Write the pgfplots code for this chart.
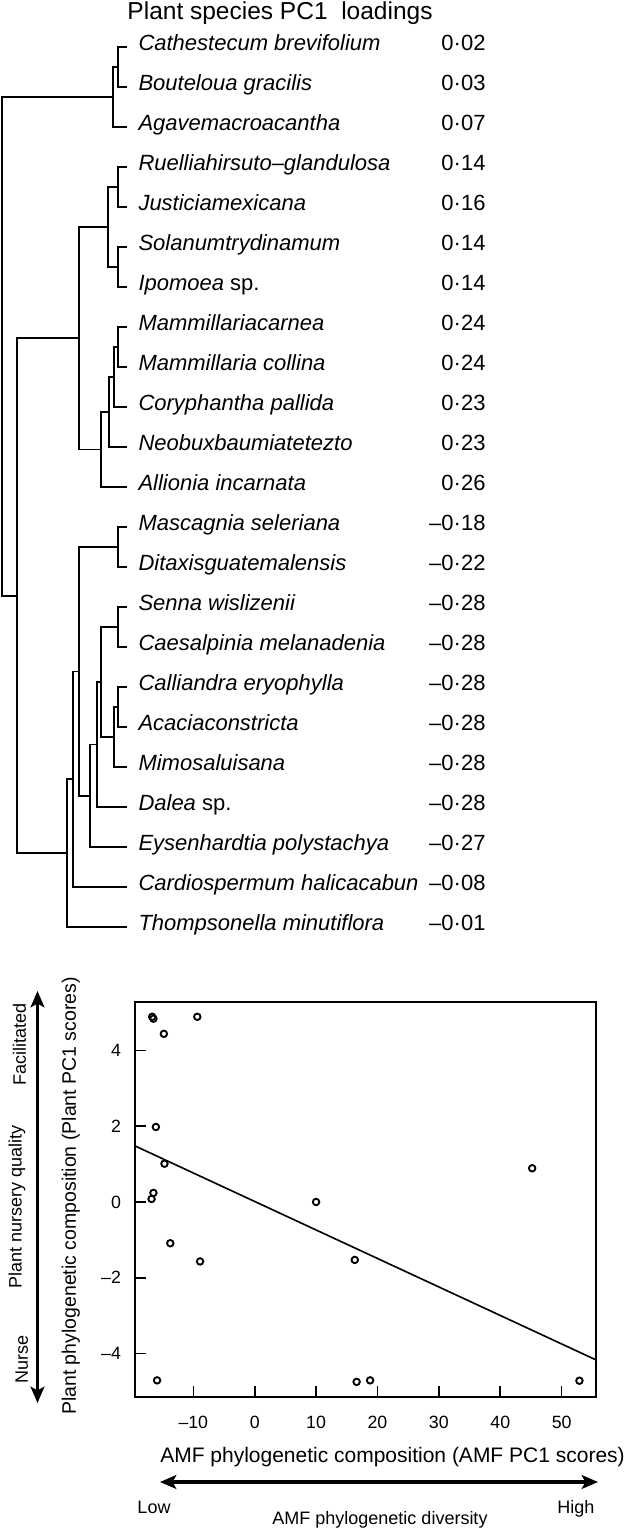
\documentclass[border=0pt]{standalone}
\usepackage{fontspec}
\setmainfont{Liberation Sans}
\usepackage{pgfplots}
\pgfplotsset{compat=1.18}
\usetikzlibrary{arrows.meta}

\newcommand\fsz[1]{\fontsize{#1pt}{#1pt}\selectfont}

\begin{document}
\begin{tikzpicture}
\useasboundingbox (0pt,0pt) rectangle (251.2pt,-612.4pt);

%% dendrogram, drawn in pixel units (x right, y down)
\begin{axis}[
  at={(0pt,0pt)}, anchor=north west,
  scale only axis, width=251.2pt, height=392pt,
  xmin=0, xmax=628, ymin=0, ymax=980, y dir=reverse,
  hide axis, clip=false,
  br/.style={black, line width=0.65pt, no markers},
]
\addplot[br] coordinates {(127,47) (118,47) (118,87) (127,87)};
\addplot[br] coordinates {(118,67) (113,67) (113,127) (127,127)};
\addplot[br, line width=0.8pt] coordinates {(113,97) (2,97) (2,595.7) (17,595.7)};
\addplot[br] coordinates {(127,167) (118,167) (118,207) (127,207)};
\addplot[br] coordinates {(127,247) (118,247) (118,287) (127,287)};
\addplot[br] coordinates {(118,187) (108,187) (108,267) (118,267)};
\addplot[br] coordinates {(127,327) (118,327) (118,367) (127,367)};
\addplot[br] coordinates {(118,347) (114,347) (114,407) (127,407)};
\addplot[br] coordinates {(114,377) (109,377) (109,447) (127,447)};
\addplot[br] coordinates {(109,412) (101,412) (101,487) (127,487)};
\addplot[br] coordinates {(108,227) (79,227) (79,449.5) (101,449.5)};
\addplot[br] coordinates {(79,338.25) (17,338.25) (17,853.1) (67,853.1)};
\addplot[br] coordinates {(127,527) (118,527) (118,567) (127,567)};
\addplot[br] coordinates {(127,607) (118,607) (118,647) (127,647)};
\addplot[br] coordinates {(127,687) (118,687) (118,727) (127,727)};
\addplot[br] coordinates {(118,707) (114,707) (114,767) (127,767)};
\addplot[br] coordinates {(118,627) (101,627) (101,737) (114,737)};
\addplot[br] coordinates {(101,682) (97,682) (97,807) (127,807)};
\addplot[br] coordinates {(97,744.5) (90,744.5) (90,847) (127,847)};
\addplot[br] coordinates {(118,547) (79,547) (79,795.75) (90,795.75)};
\addplot[br] coordinates {(79,671.4) (73,671.4) (73,887) (127,887)};
\addplot[br] coordinates {(73,779.2) (67,779.2) (67,927) (127,927)};
\end{axis}

%% scatter plot
\begin{axis}[
  at={(54pt,-558.8pt)}, anchor=south west,
  scale only axis, width=184.4pt, height=158pt,
  xmin=-19.5, xmax=55.6, ymin=-5.15, ymax=5.28,
  axis line style={line width=0.7pt},
  tick align=inside, tick pos=left,
  major tick length=4.4pt,
  tick style={black, line width=0.65pt},
  xtick={-10,0,10,20,30,40,50}, xticklabels={–10,0,10,20,30,40,50},
  ytick={-4,-2,0,2,4}, yticklabels={–4,–2,0,2,4},
  ticklabel style={font=\fsz{7.1}},
  xticklabel style={yshift=-4.1pt},
  yticklabel style={xshift=-2.1pt},
]
\addplot[only marks, mark=o, mark size=1.3pt, mark options={line width=0.75pt}]
  coordinates {
    (-16.7,4.89) (-16.5,4.84) (-9.35,4.89) (-14.8,4.44) (-16.1,1.98)
    (-14.7,1.01) (-16.5,0.24) (-16.8,0.08) (-13.75,-1.09) (-8.9,-1.57)
    (-15.9,-4.71) (10.0,0.0) (16.3,-1.53) (16.6,-4.75) (18.8,-4.71)
    (45.2,0.89) (52.9,-4.72)
  };
\addplot[black, line width=0.65pt, no markers]
  coordinates {(-19.5,1.48) (55.6,-4.17)};
\end{axis}

%% text and arrows, pixel units
\begin{scope}[x=0.4pt, y=-0.4pt]
\node[anchor=base west, inner sep=0pt, font=\fsz{9.8}] at (127,20)
  {Plant species PC1\ \ loadings};

\foreach \n/\v [count=\i from 0] in {
  {\textit{Cathestecum brevifolium}}/0·02,
  {\textit{Bouteloua gracilis}}/0·03,
  {\textit{Agavemacroacantha}}/0·07,
  {\textit{Ruelliahirsuto–glandulosa}}/0·14,
  {\textit{Justiciamexicana}}/0·16,
  {\textit{Solanumtrydinamum}}/0·14,
  {\textit{Ipomoea} sp.}/0·14,
  {\textit{Mammillariacarnea}}/0·24,
  {\textit{Mammillaria collina}}/0·24,
  {\textit{Coryphantha pallida}}/0·23,
  {\textit{Neobuxbaumiatetezto}}/0·23,
  {\textit{Allionia incarnata}}/0·26,
  {\textit{Mascagnia seleriana}}/–0·18,
  {\textit{Ditaxisguatemalensis}}/–0·22,
  {\textit{Senna wislizenii}}/–0·28,
  {\textit{Caesalpinia melanadenia}}/–0·28,
  {\textit{Calliandra eryophylla}}/–0·28,
  {\textit{Acaciaconstricta}}/–0·28,
  {\textit{Mimosaluisana}}/–0·28,
  {\textit{Dalea} sp.}/–0·28,
  {\textit{Eysenhardtia polystachya}}/–0·27,
  {\textit{Cardiospermum halicacabun}}/–0·08,
  {\textit{Thompsonella minutiflora}}/–0·01}
{
  \pgfmathsetmacro\yy{51+40*\i}
  \node[anchor=base west, inner sep=0pt, font=\fsz{8.8}] at (138,\yy) {\n};
  \node[anchor=base east, inner sep=0pt, font=\fsz{8.8}] at (486,\yy) {\v};
}

%% axis titles
\node[anchor=base, inner sep=0pt, font=\fsz{8.4}] at (392.5,1463)
  {AMF phylogenetic composition (AMF PC1 scores)};
\node[anchor=base, inner sep=0pt, rotate=90, font=\fsz{7.8}] at (76,1196)
  {Plant phylogenetic composition (Plant PC1 scores)};

%% interpretation arrows
\draw[line width=1.4pt,
  {Stealth[length=6.5pt,width=5.5pt,inset=1.5pt]}-{Stealth[length=6.5pt,width=5.5pt,inset=1.5pt]}]
  (37.5,991) -- (37.5,1403);
\draw[line width=1.4pt,
  {Stealth[length=6.5pt,width=5.5pt,inset=1.5pt]}-{Stealth[length=6.5pt,width=5.5pt,inset=1.5pt]}]
  (160,1482) -- (598,1482);

\node[anchor=base, inner sep=0pt, rotate=90, font=\fsz{7.2}] at (26,1044.5) {Facilitated};
\node[anchor=base, inner sep=0pt, rotate=90, font=\fsz{7.2}] at (21.5,1207) {Plant nursery quality};
\node[anchor=base, inner sep=0pt, rotate=90, font=\fsz{7.2}] at (28,1359) {Nurse};

\node[anchor=base west, inner sep=0pt, font=\fsz{7.2}] at (137,1514) {Low};
\node[anchor=base east, inner sep=0pt, font=\fsz{7.2}] at (595,1514) {High};
\node[anchor=base, inner sep=0pt, font=\fsz{7.2}] at (380,1525) {AMF phylogenetic diversity};
\end{scope}
\end{tikzpicture}
\end{document}
